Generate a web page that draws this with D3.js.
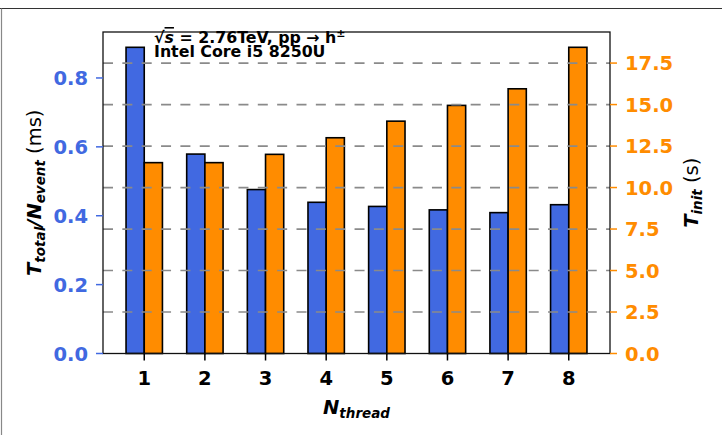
<!DOCTYPE html>
<html>
<head>
<meta charset="utf-8">
<script src="https://cdn.jsdelivr.net/npm/d3@7"></script>
<style>
  body { margin: 0; background: #fff; }
  text { font-family: "DejaVu Sans", sans-serif; }
</style>
</head>
<body>
<svg id="chart"></svg>
<script>
var threads = [1, 2, 3, 4, 5, 6, 7, 8];
var timePerEvent = [0.889, 0.579, 0.476, 0.439, 0.427, 0.417, 0.409, 0.432];
var initTime = [11.5, 11.5, 12.0, 13.0, 14.0, 14.95, 15.95, 18.45];
var leftTicks = [0.0, 0.2, 0.4, 0.6, 0.8];
var rightTicks = [0.0, 2.5, 5.0, 7.5, 10.0, 12.5, 15.0, 17.5];

var blue = "#4169E1";
var orange = "#FF8C00";
var barWidth = 0.3;
var tickFont = 19.5;

var svg = d3.select("#chart")
    .attr("width", 722)
    .attr("height", 435);

// notebook-ish frame around the figure
svg.append("line").attr("x1", 0).attr("x2", 722).attr("y1", 8.5).attr("y2", 8.5)
    .attr("stroke", "#333").attr("stroke-width", 1.2);
svg.append("line").attr("x1", 1.5).attr("x2", 1.5).attr("y1", 8.5).attr("y2", 435)
    .attr("stroke", "#888").attr("stroke-width", 1.2);

var plotLeft = 103, plotRight = 610, plotTop = 32, plotBottom = 353.5;

var xScale = d3.scaleLinear().domain([0.32, 8.68]).range([plotLeft, plotRight]);
var yLeft = d3.scaleLinear()
    .domain([0, d3.max(timePerEvent) * 1.05])
    .range([plotBottom, plotTop]);
var yRight = d3.scaleLinear()
    .domain([0, d3.max(initTime) * 1.05])
    .range([plotBottom, plotTop]);

// bars
svg.selectAll(".barTime")
    .data(threads)
    .enter().append("rect")
    .attr("class", "barTime")
    .attr("x", function (d) { return xScale(d - barWidth); })
    .attr("y", function (d, i) { return yLeft(timePerEvent[i]); })
    .attr("width", function (d) { return xScale(d) - xScale(d - barWidth); })
    .attr("height", function (d, i) { return plotBottom - yLeft(timePerEvent[i]); })
    .attr("fill", blue)
    .attr("stroke", "black")
    .attr("stroke-width", 1.6);

svg.selectAll(".barInit")
    .data(threads)
    .enter().append("rect")
    .attr("class", "barInit")
    .attr("x", function (d) { return xScale(d); })
    .attr("y", function (d, i) { return yRight(initTime[i]); })
    .attr("width", function (d) { return xScale(d + barWidth) - xScale(d); })
    .attr("height", function (d, i) { return plotBottom - yRight(initTime[i]); })
    .attr("fill", orange)
    .attr("stroke", "black")
    .attr("stroke-width", 1.6);

// dashed grid from the right axis, drawn above the bars
svg.selectAll(".grid")
    .data(rightTicks.slice(1))
    .enter().append("line")
    .attr("class", "grid")
    .attr("x1", plotLeft).attr("x2", plotRight)
    .attr("y1", function (d) { return yRight(d); })
    .attr("y2", function (d) { return yRight(d); })
    .attr("stroke", "#8a8a8a")
    .attr("stroke-width", 1.7)
    .attr("stroke-dasharray", "10,9.35");

// frame of the axes
svg.append("rect")
    .attr("x", plotLeft).attr("y", plotTop)
    .attr("width", plotRight - plotLeft).attr("height", plotBottom - plotTop)
    .attr("fill", "none")
    .attr("stroke", "#111")
    .attr("stroke-width", 1.3);

// left axis
svg.selectAll(".lTick")
    .data(leftTicks)
    .enter().append("line")
    .attr("class", "lTick")
    .attr("x1", plotLeft - 7).attr("x2", plotLeft)
    .attr("y1", function (d) { return yLeft(d); })
    .attr("y2", function (d) { return yLeft(d); })
    .attr("stroke", blue).attr("stroke-width", 1.5);

svg.selectAll(".lLabel")
    .data(leftTicks)
    .enter().append("text")
    .attr("class", "lLabel")
    .attr("x", plotLeft - 15)
    .attr("y", function (d) { return yLeft(d) + 7.3; })
    .attr("text-anchor", "end")
    .attr("font-size", tickFont)
    .attr("font-weight", "bold")
    .attr("fill", blue)
    .text(function (d) { return d3.format(".1f")(d); });

// right axis
svg.selectAll(".rTick")
    .data(rightTicks)
    .enter().append("line")
    .attr("class", "rTick")
    .attr("x1", plotRight).attr("x2", plotRight + 7)
    .attr("y1", function (d) { return yRight(d); })
    .attr("y2", function (d) { return yRight(d); })
    .attr("stroke", orange).attr("stroke-width", 1.5);

svg.selectAll(".rLabel")
    .data(rightTicks)
    .enter().append("text")
    .attr("class", "rLabel")
    .attr("x", plotRight + 15)
    .attr("y", function (d) { return yRight(d) + 7.3; })
    .attr("text-anchor", "start")
    .attr("font-size", tickFont)
    .attr("font-weight", "bold")
    .attr("fill", orange)
    .text(function (d) { return d3.format(".1f")(d); });

// bottom axis
svg.selectAll(".xTick")
    .data(threads)
    .enter().append("line")
    .attr("class", "xTick")
    .attr("x1", function (d) { return xScale(d); })
    .attr("x2", function (d) { return xScale(d); })
    .attr("y1", plotBottom).attr("y2", plotBottom + 7)
    .attr("stroke", "black").attr("stroke-width", 1.5);

svg.selectAll(".xLabel")
    .data(threads)
    .enter().append("text")
    .attr("class", "xLabel")
    .attr("x", function (d) { return xScale(d); })
    .attr("y", 384.5)
    .attr("text-anchor", "middle")
    .attr("font-size", tickFont)
    .attr("font-weight", "bold")
    .text(function (d) { return d; });

// axis titles
function subLabel(g, main, sub) {
    g.append("tspan").attr("font-weight", "bold").attr("font-style", "italic").text(main);
    g.append("tspan").attr("font-weight", "bold").attr("font-style", "italic")
        .attr("font-size", 13.5).attr("dy", 4).text(sub);
}

var xTitle = svg.append("text")
    .attr("x", (plotLeft + plotRight) / 2)
    .attr("y", 414)
    .attr("text-anchor", "middle")
    .attr("font-size", 19.5);
subLabel(xTitle, "N", "thread");

var lTitle = svg.append("text")
    .attr("transform", "translate(40.5," + ((plotTop + plotBottom) / 2) + ") rotate(-90)")
    .attr("text-anchor", "middle")
    .attr("font-size", 19.5);
subLabel(lTitle, "T", "total");
lTitle.append("tspan").attr("font-weight", "bold").attr("font-style", "italic").attr("dy", -4).text("/N");
lTitle.append("tspan").attr("font-weight", "bold").attr("font-style", "italic")
    .attr("font-size", 13.5).attr("dy", 4).text("event");
lTitle.append("tspan").attr("dy", -4).text(" (ms)");

var rTitle = svg.append("text")
    .attr("transform", "translate(698," + ((plotTop + plotBottom) / 2) + ") rotate(-90)")
    .attr("text-anchor", "middle")
    .attr("font-size", 19.5);
subLabel(rTitle, "T", "init");
rTitle.append("tspan").attr("dy", -4).text(" (s)");

// annotation
var note = svg.append("text")
    .attr("x", 154)
    .attr("y", 43)
    .attr("font-size", 15.8)
    .attr("font-weight", "bold");
note.append("tspan").text("\u221A");
note.append("tspan").attr("font-style", "italic").style("text-decoration", "overline").text("s");
note.append("tspan").text(" = 2.76TeV, pp \u2192 h");
note.append("tspan").attr("font-size", 11).attr("dy", -6).text("\u00B1");

svg.append("text")
    .attr("x", 154)
    .attr("y", 57)
    .attr("font-size", 15.8)
    .attr("font-weight", "bold")
    .text("Intel Core i5 8250U");
</script>
</body>
</html>
